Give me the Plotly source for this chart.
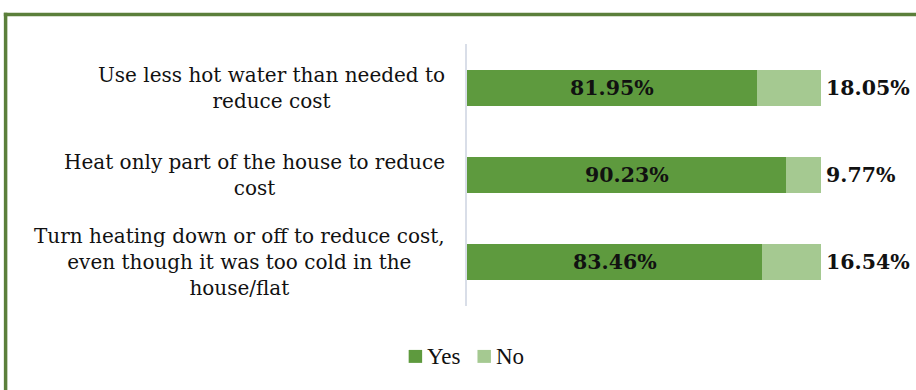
import plotly.graph_objects as go

# Survey items (top to bottom) and the share answering Yes / No, in percent
categories = [
    "Use less hot water than needed to<br>reduce cost",
    "Heat only part of the house to reduce<br>cost",
    "Turn heating down or off to reduce cost,<br>even though it was too cold in the<br>house/flat",
]
series_names = ["Yes", "No"]
yes_pct = [81.95, 90.23, 83.46]
no_pct = [18.05, 9.77, 16.54]

YES_COLOR = "#5e9a3e"
NO_COLOR = "#a5c991"
BORDER = "#5b7f3b"
SERIF = "Georgia, 'DejaVu Serif', serif"
LEGEND_FONT = "'Liberation Serif', 'Times New Roman', serif"

W, H = 916, 390
L, R, T, B = 466.5, 94.5, 44, 83.5
plot_w = W - L - R
plot_h = H - T - B


def px_to_paper_x(px):
    return (px - L) / plot_w


def px_to_paper_y(py):
    return (H - B - py) / plot_h


fig = go.Figure()
for name, vals, col in zip(series_names, [yes_pct, no_pct], [YES_COLOR, NO_COLOR]):
    fig.add_trace(go.Bar(
        name=name, y=categories, x=vals, orientation="h",
        marker=dict(color=col, line=dict(width=0)), showlegend=False,
    ))

annotations = []
for cat, y_v, n_v in zip(categories, yes_pct, no_pct):
    # value of the Yes share, centred in its segment
    annotations.append(dict(
        x=y_v / 2, y=cat, xref="x", yref="y", text=f"<b>{y_v:.2f}%</b>",
        showarrow=False, font=dict(family=SERIF, size=20.5, color="#111111"),
        xanchor="center", yanchor="middle",
    ))
    # value of the No share, just past the end of the bar
    annotations.append(dict(
        x=y_v + n_v, y=cat, xref="x", yref="y", text=f"<b>{n_v:.2f}%</b>",
        showarrow=False, font=dict(family=SERIF, size=20.5, color="#111111"),
        xanchor="left", yanchor="middle", xshift=3,
    ))
    # category label, lines centred on each other, right edge near the axis
    annotations.append(dict(
        x=0, y=cat, xref="x", yref="y", text=cat, showarrow=False,
        align="center", xanchor="right", yanchor="middle", xshift=-20,
        font=dict(family=SERIF, size=20, color="#111111"),
    ))

shapes = [
    # frame: top edge and left edge
    dict(type="line", xref="paper", yref="paper",
         x0=px_to_paper_x(2), x1=px_to_paper_x(W + 5),
         y0=px_to_paper_y(14.5), y1=px_to_paper_y(14.5),
         line=dict(color=BORDER, width=3.5)),
    dict(type="line", xref="paper", yref="paper",
         x0=px_to_paper_x(3.8), x1=px_to_paper_x(3.8),
         y0=px_to_paper_y(12.8), y1=px_to_paper_y(H + 5),
         line=dict(color=BORDER, width=3.5)),
]

# legend: swatch + label for each series, centred under the chart
legend_items = [(series_names[0], YES_COLOR, 408, 424), (series_names[1], NO_COLOR, 477, 494)]
for name, col, sx, tx in legend_items:
    shapes.append(dict(
        type="rect", xref="paper", yref="paper",
        x0=px_to_paper_x(sx), x1=px_to_paper_x(sx + 13.5),
        y0=px_to_paper_y(363.5), y1=px_to_paper_y(350.5),
        fillcolor=col, line=dict(width=0),
    ))
    annotations.append(dict(
        x=px_to_paper_x(tx), y=px_to_paper_y(357.5), xref="paper", yref="paper",
        text=name, showarrow=False, xanchor="left", yanchor="middle",
        font=dict(family=LEGEND_FONT, size=23, color="#111111"),
    ))

fig.update_layout(
    width=W, height=H,
    margin=dict(l=L, r=R, t=T, b=B),
    paper_bgcolor="white", plot_bgcolor="white",
    barmode="stack", bargap=0.59,
    xaxis=dict(range=[0, 100], visible=False, fixedrange=True),
    yaxis=dict(
        autorange="reversed", showticklabels=False, ticks="",
        showline=True, linecolor="#d9dee8", linewidth=1.5,
        showgrid=False, zeroline=False,
    ),
    annotations=annotations,
    shapes=shapes,
)

fig.write_html("out.html")
